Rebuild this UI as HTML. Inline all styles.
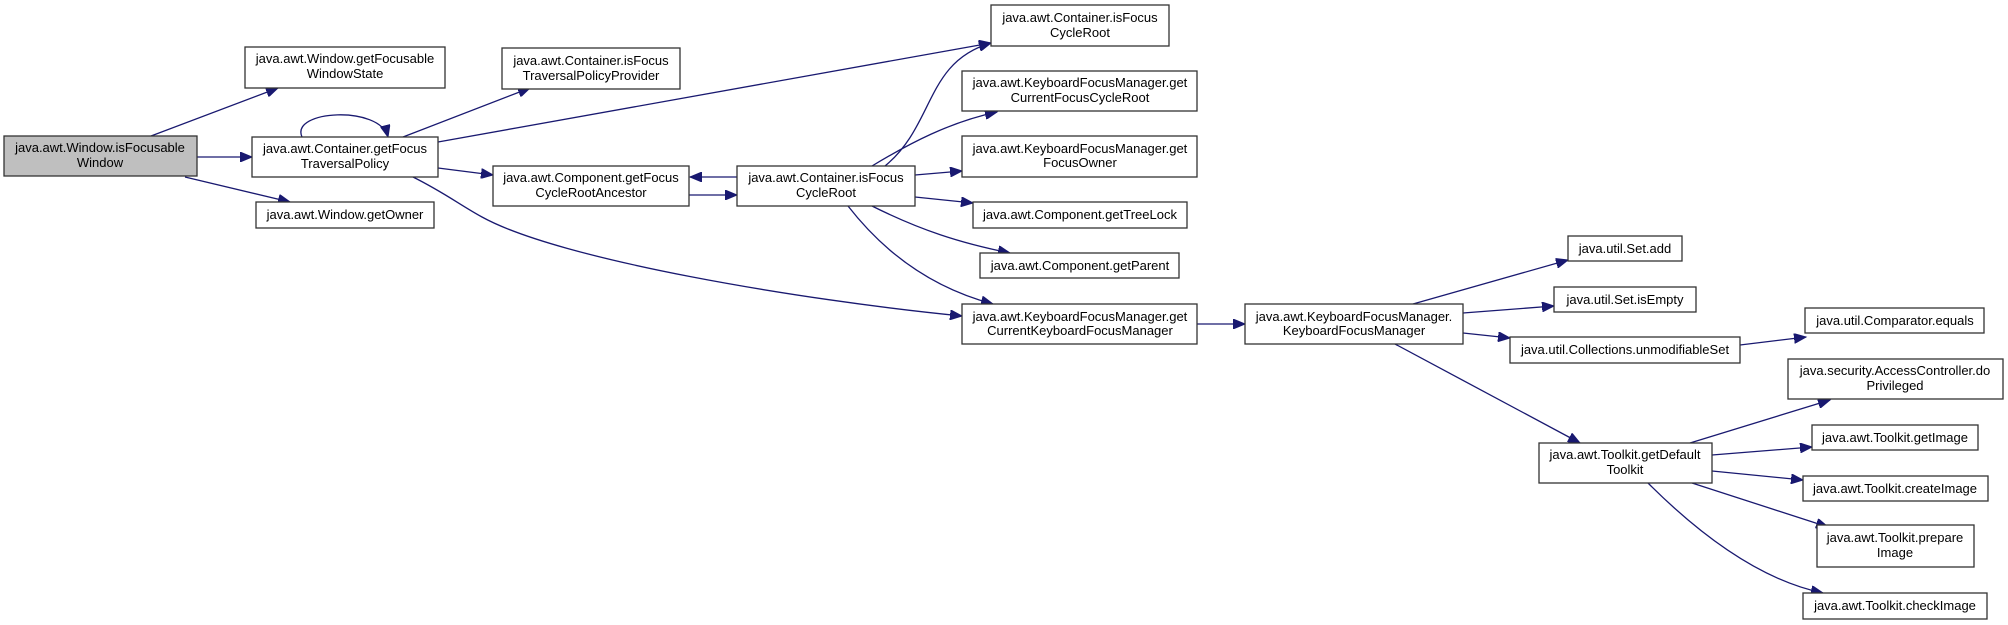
<!DOCTYPE html>
<html><head><meta charset="utf-8"><style>
html,body{margin:0;padding:0;background:#fff;}
svg{display:block;}
text{font-family:"Liberation Sans",Arial,sans-serif;font-size:13px;fill:#000;text-anchor:middle;}
rect{fill:#fff;stroke:#333;stroke-width:1.3;}
path{fill:none;stroke:#191970;stroke-width:1.3;}
</style></head><body>
<svg width="2008" height="625" viewBox="0 0 2008 625" xmlns="http://www.w3.org/2000/svg">
<defs>
<marker id="a" markerUnits="userSpaceOnUse" markerWidth="14" markerHeight="10" refX="12" refY="5" orient="auto">
<path d="M0,0 L12,5 L0,10 Z" style="fill:#191970;stroke:#191970;stroke-width:1"/>
</marker>
</defs>
<g marker-end="url(#a)">
<path d="M197,157 L252,157"/>
<path d="M151,136 L278,88"/>
<path d="M185,177 L290,202"/>
<path d="M302,137 C290,110 380,105 388,137"/>
<path d="M403,137 L530,88"/>
<path d="M438,142 L991,43"/>
<path d="M438,168 L493,175"/>
<path d="M413,177 C445,193 460,205 482,217 C560,260 800,300 962,316"/>
<path d="M737,177 L690,177"/>
<path d="M689,195 L737,195"/>
<path d="M885,166 C935,125 925,62 991,43"/>
<path d="M872,166 C910,143 950,122 997,112"/>
<path d="M915,175 L962,171"/>
<path d="M915,197 L973,203"/>
<path d="M872,206 C920,230 960,243 1010,253"/>
<path d="M848,206 C890,260 940,290 993,304"/>
<path d="M1197,324 L1245,324"/>
<path d="M1413,304 L1568,260"/>
<path d="M1463,313 L1554,306"/>
<path d="M1463,333 L1510,338"/>
<path d="M1395,344 L1580,443"/>
<path d="M1740,345 L1806,337"/>
<path d="M1690,443 L1830,400"/>
<path d="M1712,455 L1812,447"/>
<path d="M1712,471 L1803,480"/>
<path d="M1692,483 L1828,527"/>
<path d="M1648,483 C1700,535 1760,580 1823,593"/>
</g>
<rect x="4" y="136" width="193" height="40" style="fill:#bfbfbf"/>
<text x="100" y="152">java.awt.Window.isFocusable</text><text x="100" y="167">Window</text>
<rect x="245" y="47" width="200" height="41"/>
<text x="345" y="63">java.awt.Window.getFocusable</text><text x="345" y="78">WindowState</text>
<rect x="252" y="137" width="186" height="40"/>
<text x="345" y="153">java.awt.Container.getFocus</text><text x="345" y="168">TraversalPolicy</text>
<rect x="256" y="202" width="178" height="26"/>
<text x="345" y="219">java.awt.Window.getOwner</text>
<rect x="502" y="48" width="178" height="41"/>
<text x="591" y="65">java.awt.Container.isFocus</text><text x="591" y="80">TraversalPolicyProvider</text>
<rect x="493" y="166" width="196" height="40"/>
<text x="591" y="182">java.awt.Component.getFocus</text><text x="591" y="197">CycleRootAncestor</text>
<rect x="737" y="166" width="178" height="40"/>
<text x="826" y="182">java.awt.Container.isFocus</text><text x="826" y="197">CycleRoot</text>
<rect x="991" y="5" width="178" height="41"/>
<text x="1080" y="22">java.awt.Container.isFocus</text><text x="1080" y="37">CycleRoot</text>
<rect x="962" y="71" width="235" height="40"/>
<text x="1080" y="87">java.awt.KeyboardFocusManager.get</text><text x="1080" y="102">CurrentFocusCycleRoot</text>
<rect x="962" y="136" width="235" height="41"/>
<text x="1080" y="153">java.awt.KeyboardFocusManager.get</text><text x="1080" y="167">FocusOwner</text>
<rect x="973" y="202" width="214" height="26"/>
<text x="1080" y="219">java.awt.Component.getTreeLock</text>
<rect x="980" y="253" width="199" height="25"/>
<text x="1080" y="270">java.awt.Component.getParent</text>
<rect x="962" y="304" width="235" height="40"/>
<text x="1080" y="321">java.awt.KeyboardFocusManager.get</text><text x="1080" y="335">CurrentKeyboardFocusManager</text>
<rect x="1245" y="304" width="218" height="40"/>
<text x="1354" y="321">java.awt.KeyboardFocusManager.</text><text x="1354" y="335">KeyboardFocusManager</text>
<rect x="1568" y="236" width="114" height="25"/>
<text x="1625" y="253">java.util.Set.add</text>
<rect x="1554" y="287" width="142" height="25"/>
<text x="1625" y="304">java.util.Set.isEmpty</text>
<rect x="1510" y="337" width="230" height="26"/>
<text x="1625" y="354">java.util.Collections.unmodifiableSet</text>
<rect x="1805" y="308" width="179" height="25"/>
<text x="1895" y="325">java.util.Comparator.equals</text>
<rect x="1788" y="359" width="215" height="40"/>
<text x="1895" y="375">java.security.AccessController.do</text><text x="1895" y="390">Privileged</text>
<rect x="1539" y="443" width="173" height="40"/>
<text x="1625" y="459">java.awt.Toolkit.getDefault</text><text x="1625" y="474">Toolkit</text>
<rect x="1812" y="425" width="166" height="25"/>
<text x="1895" y="442">java.awt.Toolkit.getImage</text>
<rect x="1803" y="476" width="185" height="25"/>
<text x="1895" y="493">java.awt.Toolkit.createImage</text>
<rect x="1817" y="525" width="157" height="42"/>
<text x="1895" y="542">java.awt.Toolkit.prepare</text><text x="1895" y="557">Image</text>
<rect x="1803" y="593" width="184" height="26"/>
<text x="1895" y="610">java.awt.Toolkit.checkImage</text>
</svg>
</body></html>
